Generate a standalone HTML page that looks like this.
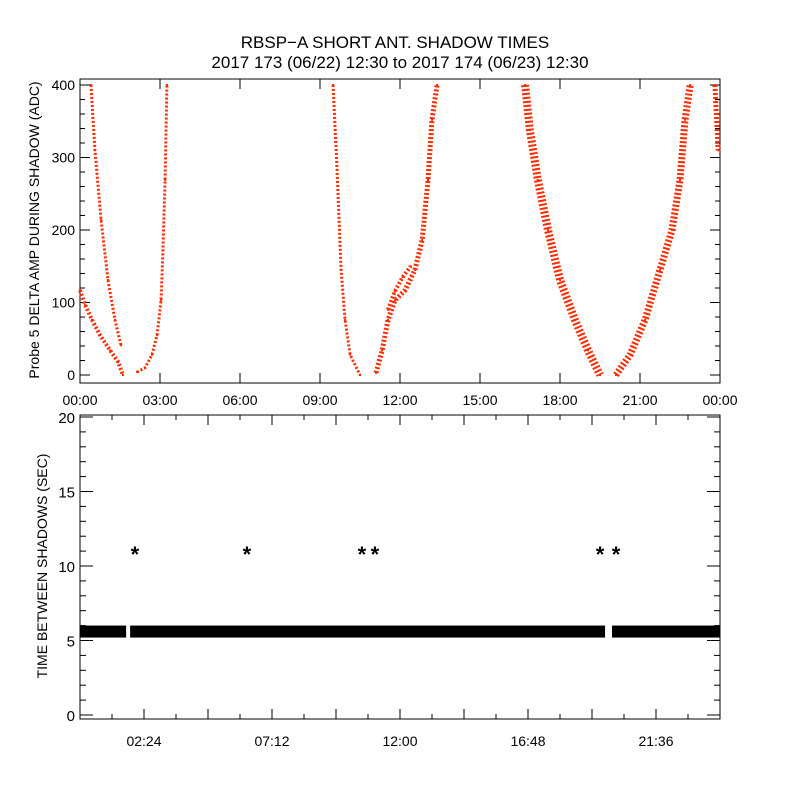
<!DOCTYPE html>
<html><head><meta charset="utf-8"><style>
body{margin:0;background:#fff}
svg text{font-family:"Liberation Sans",sans-serif;fill:#000}
</style></head><body>
<svg id="c" width="800" height="800" viewBox="0 0 800 800">
<rect width="800" height="800" fill="#fff"/>
<text x="395" y="48" font-size="17" text-anchor="middle">RBSP−A SHORT ANT. SHADOW TIMES</text>
<text x="400" y="68" font-size="17" text-anchor="middle">2017 173 (06/22) 12:30 to 2017 174 (06/23) 12:30</text>
<g id="topPanel"></g>
<g id="botPanel"></g>
</svg>
<script>
// ---- top panel data (hour, ADC value) ----
const branchA_h=[0.41,0.56,0.79,1.05,1.31,1.54];
const branchA_v=[400,310,214,131,76,41];
const branchB_h=[0,0.19,0.45,0.75,1.13,1.43,1.61];
const branchB_v=[117,97,76,55,34,18,0];
const branchC_h=[2.14,2.44,2.7,2.89,3.04,3.11,3.19,3.26];
const branchC_v=[4,10,28,55,103,172,269,400];
const branchD_h=[9.49,9.64,9.79,9.94,10.13,10.5];
const branchD_v=[400,283,145,76,28,0];
const branchE_h=[11.1,11.33,11.55,11.81,12.19,12.56,12.83,13.05,13.2,13.39];
const branchE_v=[3,34,76,103,117,145,186,269,352,400];
const branchE2_h=[11.55,11.8,12.1,12.4];
const branchE2_v=[90,115,135,150];
const branchF_h=[16.69,16.87,17.17,17.55,18.0,18.56,19.05,19.5];
const branchF_v=[400,338,269,200,131,76,34,0];
const branchG_h=[20.1,20.63,21.19,21.75,22.2,22.5,22.69,22.88];
const branchG_v=[0,28,76,145,200,269,352,400];
const branchH_h=[23.81,23.93];
const branchH_v=[400,310];
const topTicks=["00:00","03:00","06:00","09:00","12:00","15:00","18:00","21:00","00:00"];
const topYTicks=[0,100,200,300,400];
// ---- bottom panel data ----
const bandStart=[0,1.88,19.95];
const bandEnd=[1.73,19.69,24];
const bandValue=[5.6,5.6,5.6];
const outlierH=[2.06,6.26,10.57,11.06,19.5,20.1];
const outlierV=[11,11,11,11,11,11];
const botTicks=["02:24","07:12","12:00","16:48","21:36"];
const botTickH=[2.4,7.2,12,16.8,21.6];
const botYTicks=[0,5,10,15,20];

const NS="http://www.w3.org/2000/svg";
function mk(p,t,a){const e=document.createElementNS(NS,t);for(const k in a)e.setAttribute(k,a[k]);p.appendChild(e);return e;}
const L=80,R=720;
const xs=h=>L+h*(R-L)/24;
const topG=document.getElementById('topPanel'),botG=document.getElementById('botPanel');
const ty=v=>375-v*0.725;
const by=v=>715-v*14.9;

let f=mk(topG,'rect',{x:L,y:79,width:R-L,height:304,fill:'none',stroke:'#000','stroke-width':1});


for(let i=0;i<=8;i++){const x=xs(i*3);
 mk(topG,'line',{x1:x,x2:x,y1:383,y2:373,stroke:'#000'});
 mk(topG,'line',{x1:x,x2:x,y1:79,y2:89,stroke:'#000'});
 const t=mk(topG,'text',{x:x,y:405,'font-size':14,'text-anchor':'middle'});t.textContent=topTicks[i];
 
 }
for(let v=0;v<=400;v+=20){const y=ty(v),len=v%100===0?10:5;
 mk(topG,'line',{x1:L,x2:L+len,y1:y,y2:y,stroke:'#000'});
 mk(topG,'line',{x1:R,x2:R-len,y1:y,y2:y,stroke:'#000'});}
topYTicks.forEach(v=>{const t=mk(topG,'text',{x:75,y:ty(v)+5,'font-size':14,'text-anchor':'end'});t.textContent=v;
 
 });
let yt=mk(topG,'text',{x:0,y:0,'font-size':14,'text-anchor':'middle',transform:'translate(39,230) rotate(-90)'});
yt.textContent='Probe 5 DELTA AMP DURING SHADOW (ADC)';


const branches=[[branchA_h,branchA_v,3],[branchB_h,branchB_v,4],[branchC_h,branchC_v,3],[branchD_h,branchD_v,3],[branchE_h,branchE_v,5],[branchE2_h,branchE2_v,4],[branchF_h,branchF_v,8],[branchG_h,branchG_v,7],[branchH_h,branchH_v,5]];
branches.forEach((b,i)=>{
 const pts=b[0].map((h,j)=>xs(h)+','+ty(b[1][j])).join(' ');
 const pl=mk(topG,'polyline',{points:pts,fill:'none',stroke:'#ff2a00','stroke-width':b[2],'stroke-dasharray':'2 2','stroke-linejoin':'round'});
 
 
 b[0].forEach((h,j)=>{const d=mk(topG,'rect',{x:xs(h)-1,y:ty(b[1][j])-1,width:2,height:2,fill:'#ff2a00'});
  
  });
});

let f2=mk(botG,'rect',{x:L,y:415,width:R-L,height:304,fill:'none',stroke:'#000'});


for(let i=0;i<=20;i++){const x=xs(i*1.2),len=i%2===0?10:5;
 mk(botG,'line',{x1:x,x2:x,y1:719,y2:719-len,stroke:'#000'});
 mk(botG,'line',{x1:x,x2:x,y1:415,y2:415+len,stroke:'#000'});}
botTicks.forEach((s,i)=>{const t=mk(botG,'text',{x:xs(botTickH[i]),y:746,'font-size':14,'text-anchor':'middle'});t.textContent=s;
 
 });
for(let v=0;v<=20;v+=1){const y=by(v),len=v%5===0?13:6;
 mk(botG,'line',{x1:L,x2:L+len,y1:y,y2:y,stroke:'#000'});
 mk(botG,'line',{x1:R,x2:R-len,y1:y,y2:y,stroke:'#000'});}
botYTicks.forEach(v=>{const t=mk(botG,'text',{x:75,y:by(v)+6,'font-size':15,'text-anchor':'end'});t.textContent=v;
 
 });
let yt2=mk(botG,'text',{x:0,y:0,'font-size':14,'text-anchor':'middle',transform:'translate(47,566) rotate(-90)'});
yt2.textContent='TIME BETWEEN SHADOWS (SEC)';


bandStart.forEach((s,i)=>{const r=mk(botG,'rect',{x:xs(s),y:by(bandValue[i])-6,width:xs(bandEnd[i])-xs(s),height:12,fill:'#000'});
 
 });
outlierH.forEach((h,i)=>{const t=mk(botG,'text',{x:xs(h),y:by(outlierV[i])+11,'font-size':22,'font-weight':'bold','text-anchor':'middle'});t.textContent='*';
 
 });
</script>
</body></html>
